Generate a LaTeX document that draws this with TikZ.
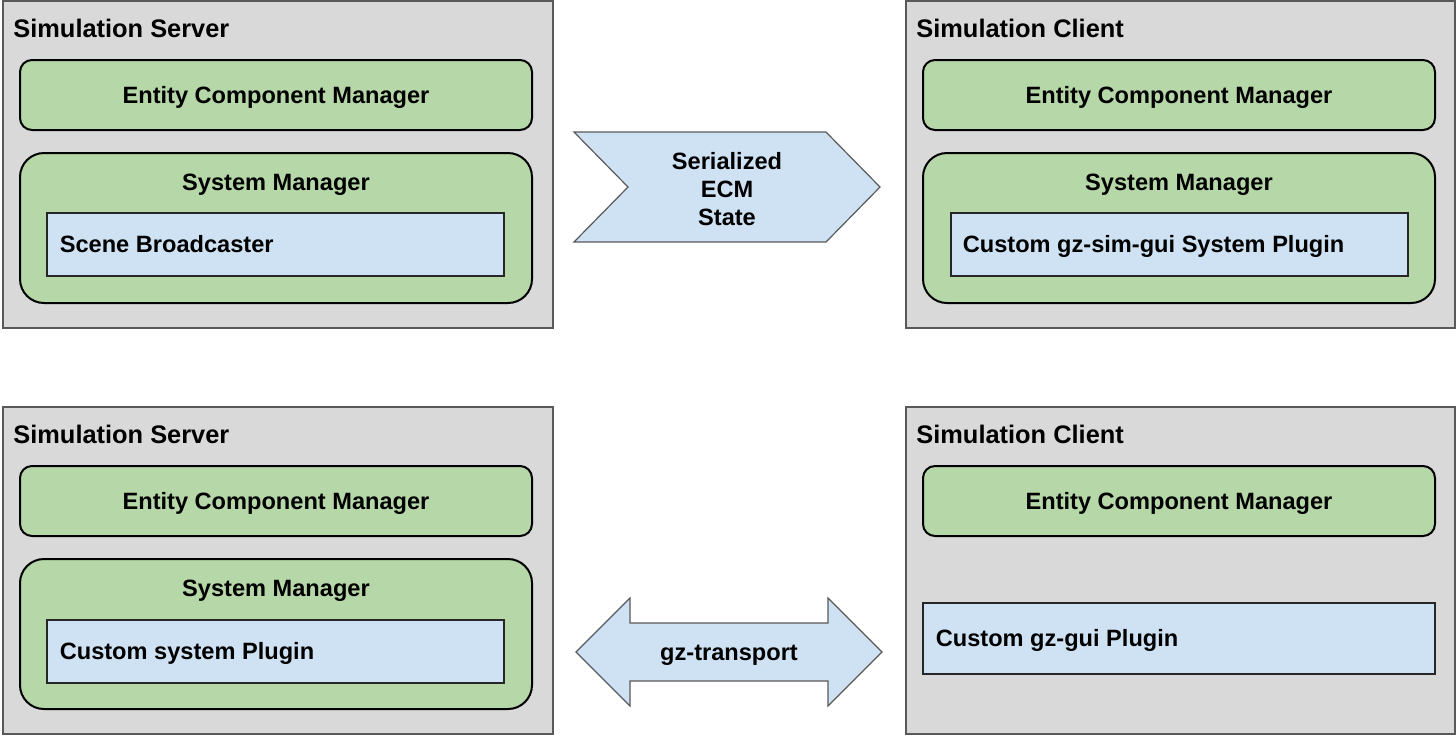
\documentclass[tikz,border=0pt]{standalone}
\usepackage{fontspec}
\setmainfont{Liberation Sans}
\usetikzlibrary{positioning}
\definecolor{PanelGray}{HTML}{D9D9D9}
\definecolor{MgrGreen}{HTML}{B6D7A8}
\definecolor{PluginBlue}{HTML}{CFE2F3}
\definecolor{EdgeGray}{HTML}{595959}

\begin{document}
\begin{tikzpicture}[
  x=0.5pt, y=-0.5pt,
  panel/.style={rectangle, draw=EdgeGray, fill=PanelGray, line width=0.6pt,
    minimum width=275pt, minimum height=163.5pt, inner sep=0pt},
  ecm/.style={rectangle, draw=black, fill=MgrGreen, line width=1pt, rounded corners=6pt,
    minimum width=256pt, minimum height=35pt, text height=9.6pt, text depth=1.2pt,
    font=\fontsize{11.8}{14}\selectfont\bfseries},
  sysmgr/.style={rectangle, draw=black, fill=MgrGreen, line width=1pt, rounded corners=12pt,
    minimum width=256pt, minimum height=75pt, inner sep=0pt},
  plugin/.style={rectangle, draw=black!85, fill=PluginBlue, line width=0.6pt,
    minimum width=228.5pt, minimum height=31.5pt, inner sep=0pt},
  flow/.style={draw=EdgeGray, fill=PluginBlue, line width=0.6pt, line join=miter},
  caption/.style={font=\fontsize{12.7}{15}\selectfont\bfseries, inner sep=0pt},
  txt/.style={font=\fontsize{11.8}{14}\selectfont\bfseries, inner sep=0pt},
  lbl/.style={txt, text height=9.6pt, text depth=1.2pt}
]
  \useasboundingbox (0,0) rectangle (1456,736);

  % upper row: ECM state sync
  \node[panel] (srvA) at (278,164.5) {};
  \node[caption, anchor=base west] (srvAtitle) at (13,37) {Simulation Server};
  \node[ecm] (srvAecm) at (276,95) {Entity Component Manager};
  \node[sysmgr] (srvAsys) at (276,228) {};
  \node[lbl] (srvAsyslbl) at ([yshift=-14.8pt]srvAsys.north) {System Manager};
  \node[plugin] (bcast) at (275.5,244.5) {};
  \node[lbl, anchor=west] (bcastlbl) at ([xshift=6.5pt]bcast.west) {Scene Broadcaster};

  \node[panel, minimum width=274.5pt] (cliA) at (1180.5,164.5) {};
  \node[caption, anchor=base west] (cliAtitle) at (916,37) {Simulation Client};
  \node[ecm] (cliAecm) at (1179,95) {Entity Component Manager};
  \node[sysmgr] (cliAsys) at (1179,228) {};
  \node[lbl] (cliAsyslbl) at ([yshift=-14.8pt]cliAsys.north) {System Manager};
  \node[plugin] (guisys) at (1179.5,244.5) {};
  \node[lbl, anchor=west] (guisyslbl) at ([xshift=6pt]guisys.west) {Custom gz-sim-gui System Plugin};

  \draw[flow] (574,132) -- (826,132) -- (880,187) -- (826,242) -- (574,242) -- (628,187) -- cycle;
  \node[txt, align=center] (ecmstate) at (727,189) {Serialized\\ECM\\State};

  % lower row: transport messages
  \node[panel] (srvB) at (278,570.5) {};
  \node[caption, anchor=base west] (srvBtitle) at (13,443) {Simulation Server};
  \node[ecm] (srvBecm) at (276,501) {Entity Component Manager};
  \node[sysmgr] (srvBsys) at (276,634) {};
  \node[lbl] (srvBsyslbl) at ([yshift=-14.8pt]srvBsys.north) {System Manager};
  \node[plugin] (custsys) at (275.5,651.5) {};
  \node[lbl, anchor=west] (custsyslbl) at ([xshift=6.5pt]custsys.west) {Custom system Plugin};

  \node[panel, minimum width=274.5pt] (cliB) at (1180.5,570.5) {};
  \node[caption, anchor=base west] (cliBtitle) at (916,443) {Simulation Client};
  \node[ecm] (cliBecm) at (1179,501) {Entity Component Manager};
  \node[plugin, minimum width=256pt, minimum height=35.5pt] (guiplug) at (1179,638.5) {};
  \node[lbl, anchor=west] (guipluglbl) at ([xshift=6.5pt]guiplug.west) {Custom gz-gui Plugin};

  \draw[flow] (576,652) -- (630,598) -- (630,623) -- (828,623) -- (828,598) -- (882,652)
    -- (828,706) -- (828,681) -- (630,681) -- (630,706) -- cycle;
  \node[lbl] (transport) at (729,652) {gz-transport};
\end{tikzpicture}
\end{document}
